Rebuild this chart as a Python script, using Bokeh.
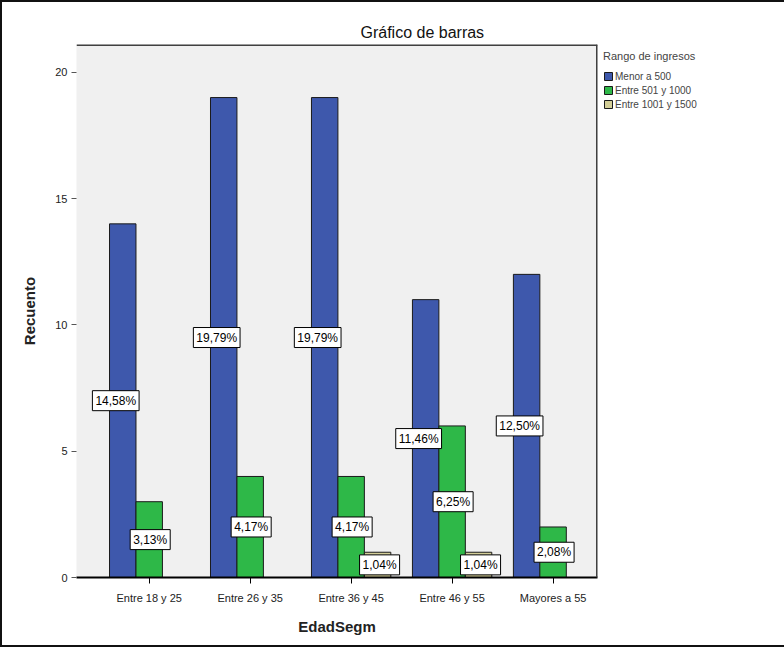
import numpy as np
from decimal import Decimal, ROUND_HALF_UP
from bokeh.plotting import figure
from bokeh.models import (ColumnDataSource, Range1d, FixedTicker, Legend, LegendItem, Span)
from bokeh.core.properties import value
from bokeh.embed import file_html
from bokeh.resources import INLINE

# ---------------- data ----------------
categories = ["Entre 18 y 25", "Entre 26 y 35", "Entre 36 y 45", "Entre 46 y 55", "Mayores a 55"]
series_names = ["Menor a 500", "Entre 501 y 1000", "Entre 1001 y 1500"]
menor_500 = [14, 19, 19, 11, 12]
entre_501_1000 = [3, 4, 4, 6, 2]
entre_1001_1500 = [0, 0, 1, 1, 0]
y_ticks = [0, 5, 10, 15, 20]
legend_title = "Rango de ingresos"
x_title = "EdadSegm"
y_title = "Recuento"
chart_title = "Gráfico de barras"

colors = ["#3E58AC", "#2EB848", "#D3CE97"]
FONT = "Liberation Sans"

series = [menor_500, entre_501_1000, entre_1001_1500]
total = sum(sum(s) for s in series)
idx = np.arange(len(categories))
bar_w = 0.262
dodges = [-bar_w, 0.0, bar_w]
label_dx = [-7, 1, 2]
X0, X1, Y0, Y1 = -0.72, 4.44, 0, 21.1


def pct(v):
    d = (Decimal(v) * Decimal(100) / Decimal(total)).quantize(Decimal("0.01"), rounding=ROUND_HALF_UP)
    return f"{d}%".replace(".", ",")


p = figure(frame_width=521, frame_height=533, output_backend="svg", toolbar_location=None,
           x_range=Range1d(X0, X1), y_range=Range1d(Y0, Y1),
           min_border_left=74, min_border_right=150, min_border_top=42, min_border_bottom=68)
p.background_fill_color = "#F0F0F0"
p.border_fill_color = "white"
p.outline_line_color = None
p.grid.visible = False
p.styles = {"border": "2px solid #111111", "box-sizing": "border-box"}

# title
p.title.text = chart_title
p.title.text_font = FONT
p.title.text_font_size = "16px"
p.title.text_font_style = "normal"
p.title.text_color = "#111111"
p.title.align = "left"
p.title.offset = 284
p.title.standoff = 8

items = []
for k, (name, vals) in enumerate(zip(series_names, series)):
    src = ColumnDataSource(dict(x=idx + dodges[k], top=vals))
    r = p.vbar(x="x", top="top", width=bar_w, source=src, fill_color=colors[k],
               line_color="#1a1a1a", line_width=1)
    items.append(LegendItem(label=name, renderers=[r]))

for k, vals in enumerate(series):
    xs, ys, txt = [], [], []
    for i, v in enumerate(vals):
        if v > 0:
            xs.append(idx[i] + dodges[k])
            ys.append(v / 2)
            txt.append(pct(v))
    lsrc = ColumnDataSource(dict(x=xs, y=ys, text=txt))
    p.text(x="x", y="y", text="text", source=lsrc, x_offset=label_dx[k],
           text_align="center", text_baseline="middle", text_font=value(FONT),
           text_font_size="12px", text_color="black",
           background_fill_color="white", border_line_color="black",
           border_line_width=1, padding=3)

# frame lines top / right
p.add_layout(Span(location=X1, dimension="height", line_color="#404040", line_width=3))
p.add_layout(Span(location=Y1, dimension="width", line_color="#404040", line_width=3))

# axes
xa = p.xaxis[0]
xa.ticker = FixedTicker(ticks=list(idx))
xa.major_label_overrides = {int(i): c for i, c in zip(idx, categories)}
xa.axis_label = x_title
xa.axis_line_color = "black"
xa.axis_line_width = 2
xa.major_tick_line_color = "black"
xa.major_tick_out = 6
xa.major_tick_in = 0
xa.minor_tick_line_color = None
xa.major_label_text_font = FONT
xa.major_label_text_font_size = "11px"
xa.major_label_text_color = "#222222"
xa.major_label_standoff = 8
xa.axis_label_text_font = FONT
xa.axis_label_text_font_size = "15px"
xa.axis_label_text_font_style = "bold"
xa.axis_label_text_color = "#222222"
xa.axis_label_standoff = 11

ya = p.yaxis[0]
ya.ticker = FixedTicker(ticks=y_ticks)
ya.axis_label = y_title
ya.axis_line_color = None
ya.major_tick_line_color = "#555555"
ya.major_tick_out = 5
ya.major_tick_in = 0
ya.minor_tick_line_color = None
ya.major_label_text_font = FONT
ya.major_label_text_font_size = "11px"
ya.major_label_text_color = "#222222"
ya.major_label_standoff = 4
ya.axis_label_text_font = FONT
ya.axis_label_text_font_size = "15px"
ya.axis_label_text_font_style = "bold"
ya.axis_label_text_color = "#222222"
ya.axis_label_standoff = 14

legend = Legend(items=items, location="top_left", title=legend_title,
                title_text_font=FONT, title_text_font_size="11px",
                title_text_font_style="normal", title_standoff=8,
                label_text_font=FONT, label_text_font_size="10px",
                glyph_width=10, glyph_height=10, label_height=12, spacing=2,
                label_standoff=2, padding=4, margin=6,
                background_fill_alpha=0, border_line_color=None)
p.add_layout(legend, "right")

open("out.html", "w").write(file_html(p, INLINE))
